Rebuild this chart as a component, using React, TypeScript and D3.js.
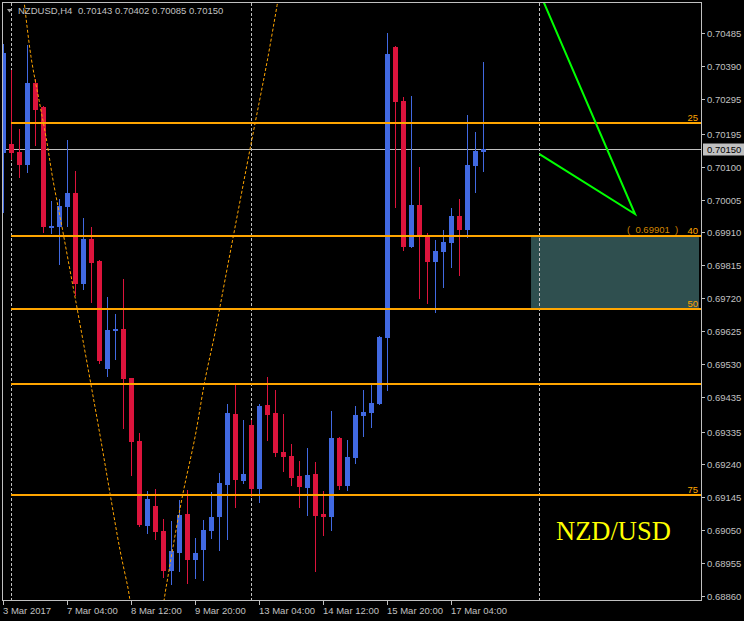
import * as d3 from "d3";

// NZDUSD H4 candles
const opens = [
  0.70139, 0.70165, 0.70142, 0.70105, 0.70342, 0.70272, 0.69923, 0.69926, 0.69983, 0.70024,
  0.69761, 0.69891, 0.69827, 0.69516, 0.69628, 0.69631, 0.6949, 0.69308, 0.69062, 0.6912,
  0.69048, 0.68932, 0.68984, 0.69097, 0.68964, 0.68993, 0.69048, 0.69088, 0.69181, 0.69386,
  0.69192, 0.69354, 0.69169, 0.69412, 0.69388, 0.69276, 0.69264, 0.69207, 0.69172, 0.69212,
  0.69097, 0.69088, 0.69316, 0.69178, 0.69259, 0.6938, 0.69388, 0.69414, 0.69605, 0.70445,
  0.7029, 0.69868, 0.69989, 0.69903, 0.69825, 0.69853, 0.69879, 0.69957, 0.69917, 0.70102,
  0.70143,
];
const highs = [
  0.70454, 0.70379, 0.70209, 0.70451, 0.70353, 0.70275, 0.70001, 0.70006, 0.70177, 0.70087,
  0.69952, 0.69926, 0.6983, 0.69723, 0.69674, 0.69775, 0.6949, 0.69331, 0.69163, 0.69169,
  0.69082, 0.69077, 0.69137, 0.69166, 0.69027, 0.69079, 0.6916, 0.69215, 0.69414, 0.69472,
  0.69368, 0.69368, 0.69414, 0.69492, 0.69455, 0.69386, 0.69299, 0.6925, 0.69287, 0.69247,
  0.69163, 0.69394, 0.69319, 0.6931, 0.69409, 0.69455, 0.69469, 0.69611, 0.70486, 0.70448,
  0.70301, 0.70304, 0.70099, 0.69908, 0.69888, 0.69917, 0.69981, 0.70006, 0.70249, 0.702,
  0.70402,
];
const lows = [
  0.69966, 0.70119, 0.70067, 0.70082, 0.7016, 0.69908, 0.69905, 0.69816, 0.69926, 0.69726,
  0.69744, 0.69706, 0.6953, 0.69492, 0.69542, 0.69342, 0.69207, 0.69059, 0.69039, 0.69022,
  0.68912, 0.68892, 0.68929, 0.68895, 0.68909, 0.68903, 0.69025, 0.6899, 0.69022, 0.69114,
  0.69183, 0.69146, 0.69129, 0.69308, 0.69261, 0.69218, 0.69178, 0.69114, 0.69091, 0.68929,
  0.69033, 0.69048, 0.69166, 0.69163, 0.69241, 0.69319, 0.69345, 0.69412, 0.69452, 0.69981,
  0.69856, 0.69865, 0.69718, 0.69703, 0.69677, 0.69749, 0.69807, 0.69784, 0.69894, 0.70024,
  0.70085,
];
const closes = [
  0.70428, 0.70139, 0.70105, 0.70342, 0.70264, 0.69926, 0.69929, 0.69986, 0.70024, 0.69761,
  0.69891, 0.69822, 0.69539, 0.69628, 0.69631, 0.69487, 0.69305, 0.69065, 0.6914, 0.69045,
  0.68932, 0.6899, 0.69094, 0.68964, 0.68984, 0.69051, 0.69088, 0.69186, 0.69388, 0.69195,
  0.69212, 0.69169, 0.69409, 0.69383, 0.69273, 0.69261, 0.69201, 0.69175, 0.69209, 0.69091,
  0.69088, 0.69316, 0.69178, 0.69261, 0.69383, 0.69391, 0.69417, 0.69608, 0.70425, 0.70287,
  0.69868, 0.69989, 0.69897, 0.69825, 0.69856, 0.69882, 0.69957, 0.69917, 0.70105, 0.70145,
  0.7015,
];

const xTickBars = [0, 8, 16, 24, 32, 40, 48, 56];
const xTickLabels = [
  "3 Mar 2017", "7 Mar 04:00", "8 Mar 12:00", "9 Mar 20:00",
  "13 Mar 04:00", "14 Mar 12:00", "15 Mar 20:00", "17 Mar 04:00",
];
const yTickLabels = [
  "0.70485", "0.70390", "0.70295", "0.70195", "0.70100", "0.70005", "0.69910", "0.69815",
  "0.69720", "0.69625", "0.69530", "0.69435", "0.69335", "0.69240", "0.69145", "0.69050",
  "0.68955", "0.68860",
];

const bidPrice = 0.7015;
const fibPrices = [0.70225, 0.69901, 0.69688, 0.69473, 0.69153];
const fibLabels = ["25", "40", "50", "", "75"];
const fibStartBar = 1;
const zoneBars = [65.94, 86.94];
const zonePrices = [0.69901, 0.69688];
const vLineBars = [1, 31, 67];
// green trend lines (bar, price)
const trendBars = [66.87, 78.94, 67];
const trendPrices = [0.7061, 0.69963, 0.70136];
// orange dotted arc (bar, price)
const arcBars = [
  2.56, 3.44, 4.44, 5.31, 6.19, 7.31, 8.31, 9.31, 12.06, 13.31, 14.56, 15.56, 16.06,
  17.94, 19.81, 20.31, 21.19, 22.44, 23.94, 25.19, 26.44, 27.69, 30.81, 33.06, 34.31,
];
const arcPrices = [
  0.70581, 0.70417, 0.70292, 0.70186, 0.70061, 0.69926, 0.69801, 0.69677, 0.69325, 0.69157,
  0.68993, 0.68883, 0.6882, 0.68704, 0.6882, 0.68883, 0.69002, 0.69157, 0.69319, 0.69484,
  0.6962, 0.69773, 0.7015, 0.70417, 0.70581,
];

const FONT = "'Liberation Sans', Arial, sans-serif";
const BLUE = "#4169E1";
const RED = "#DC143C";
const ORANGE = "#FFA500";
const SILVER = "#C0C0C0";

export default function App() {
  const left = 3;
  const top = 3;
  const right = 701;
  const bottom = 600;

  const x = d3.scaleLinear().domain([0, 87]).range([3.5, 699.5]);
  const y = d3.scaleLinear().domain([0.6886, 0.70485]).range([596, 33.3]);

  const candles = opens.map((o, i) => ({
    o,
    h: highs[i],
    l: lows[i],
    c: closes[i],
    i,
  }));

  const arcLine = d3
    .line<number>()
    .x((b) => x(b))
    .y((_, k) => y(arcPrices[k]))
    .curve(d3.curveCatmullRom);

  const trendLine = d3
    .line<number>()
    .x((b) => x(b))
    .y((_, k) => y(trendPrices[k]));

  return (
    <svg
      width={744}
      height={621}
      style={{ position: "absolute", left: 0, top: 0, display: "block", background: "#000" }}
    >
      <defs>
        <clipPath id="plot">
          <rect x={left} y={top} width={right - left} height={bottom - top} />
        </clipPath>
      </defs>
      <rect x={0} y={0} width={744} height={621} fill="#000" />

      <g clipPath="url(#plot)">
        {/* zone */}
        <rect
          x={x(zoneBars[0])}
          y={y(zonePrices[0])}
          width={x(zoneBars[1]) - x(zoneBars[0])}
          height={y(zonePrices[1]) - y(zonePrices[0])}
          fill="#2F4F4F"
        />
        {/* bid line */}
        <line x1={left} x2={right} y1={Math.round(y(bidPrice)) + 0.5} y2={Math.round(y(bidPrice)) + 0.5} stroke={SILVER} />
        {/* vertical dashed lines */}
        {vLineBars.map((b) => (
          <line
            key={b}
            x1={Math.floor(x(b)) + 0.5}
            x2={Math.floor(x(b)) + 0.5}
            y1={top}
            y2={bottom}
            stroke={SILVER}
            strokeDasharray="3,2"
          />
        ))}
        {/* candles */}
        {candles.map((d) => {
          const cx = x(d.i);
          const col = d.c >= d.o ? BLUE : RED;
          const yTop = Math.round(y(Math.max(d.o, d.c)));
          const yBot = Math.round(y(Math.min(d.o, d.c)));
          return (
            <g key={d.i}>
              <rect x={cx - 0.5} y={Math.round(y(d.h))} width={1} height={Math.round(y(d.l)) - Math.round(y(d.h))} fill={col} />
              <rect x={cx - 2.5} y={yTop} width={5} height={Math.max(2, yBot - yTop)} fill={col} />
            </g>
          );
        })}
        {/* fib levels */}
        {fibPrices.map((p, k) => (
          <g key={k}>
            <line
              x1={x(fibStartBar) - 0.5}
              x2={right}
              y1={Math.round(y(p))}
              y2={Math.round(y(p))}
              stroke={ORANGE}
              strokeWidth={2}
            />
            <text x={698} y={Math.round(y(p)) - 2} fill={ORANGE} fontFamily={FONT} fontSize={9.5} textAnchor="end">
              {fibLabels[k]}
            </text>
          </g>
        ))}
        <text
          x={627}
          y={y(fibPrices[1]) - 2.5}
          fill="#D08400"
          fontFamily={FONT}
          fontSize={9.5}
          style={{ whiteSpace: "pre" }}
        >
          {`(  ${fibPrices[1].toFixed(5)}  )`}
        </text>
        {/* arc */}
        <path d={arcLine(arcBars) ?? ""} fill="none" stroke={ORANGE} strokeWidth={1} strokeDasharray="3,2" />
        {/* trend lines */}
        <path d={trendLine(trendBars) ?? ""} fill="none" stroke="#00FF00" strokeWidth={2} />
      </g>

      {/* frame */}
      <rect x={2.5} y={2.5} width={699} height={598} fill="none" stroke={SILVER} />

      {/* y axis */}
      {yTickLabels.map((t) => {
        const yy = Math.round(y(+t)) + 0.5;
        return (
          <g key={t}>
            <line x1={702} x2={705} y1={yy} y2={yy} stroke={SILVER} />
            <text x={707} y={yy + 3.5} fill={SILVER} fontFamily={FONT} fontSize={9.5}>
              {t}
            </text>
          </g>
        );
      })}
      <rect x={703} y={Math.round(y(bidPrice)) - 5.5} width={41} height={12} fill={SILVER} />
      <text x={707} y={Math.round(y(bidPrice)) + 4} fill="#000" fontFamily={FONT} fontSize={9.5}>
        {bidPrice.toFixed(5)}
      </text>

      {/* x axis */}
      {xTickBars.map((b, k) => (
        <g key={b}>
          <line x1={Math.floor(x(b)) + 0.5} x2={Math.floor(x(b)) + 0.5} y1={601} y2={605} stroke={SILVER} />
          <text x={Math.floor(x(b))} y={614} fill={SILVER} fontFamily={FONT} fontSize={9.5}>
            {xTickLabels[k]}
          </text>
        </g>
      ))}

      {/* title */}
      <path d="M7,9 L12,9 L9.5,12.5 Z" fill="#A0A0A0" />
      <text x={18} y={14} fill={SILVER} fontFamily={FONT} fontSize={9.5}>
        NZDUSD,H4
      </text>
      <text x={78} y={14} fill={SILVER} fontFamily={FONT} fontSize={9.5}>
        {[opens[60], highs[60], lows[60], closes[60]].map((v) => v.toFixed(5)).join(" ")}
      </text>

      <text x={556} y={540} fill="#FFFF00" fontFamily="'Liberation Serif', 'Times New Roman', serif" fontSize={26.5}>
        NZD/USD
      </text>
    </svg>
  );
}
